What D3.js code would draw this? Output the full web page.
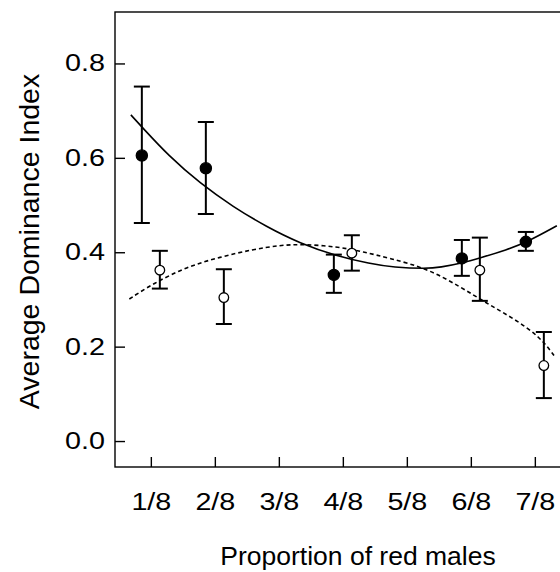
<!DOCTYPE html>
<html>
<head>
<meta charset="utf-8">
<script src="https://cdn.jsdelivr.net/npm/d3@7"></script>
<style>
  body { margin: 0; background: #fff; }
  svg { display: block; font-family: "Liberation Sans", Arial, sans-serif; }
</style>
</head>
<body>
<svg id="grafico" width="560" height="572"></svg>
<script>
// proportions of red males (x categories)
const props      = [1/8, 2/8, 4/8, 6/8, 7/8];
const tickVals   = [1/8, 2/8, 3/8, 4/8, 5/8, 6/8, 7/8];
const tickLabels = ["1/8", "2/8", "3/8", "4/8", "5/8", "6/8", "7/8"];
const yTicks     = [0, 0.2, 0.4, 0.6, 0.8];

// filled circles
const cheiaMedia = [0.605, 0.578, 0.352, 0.387, 0.422];
const cheiaSup   = [0.751, 0.676, 0.395, 0.426, 0.443];
const cheiaInf   = [0.462, 0.481, 0.314, 0.350, 0.403];

// open circles
const vaziaMedia = [0.362, 0.304, 0.398, 0.362, 0.160];
const vaziaSup   = [0.403, 0.364, 0.436, 0.431, 0.231];
const vaziaInf   = [0.323, 0.248, 0.361, 0.297, 0.091];

// fitted curves
const curvaCheiaX = [0.086, 0.107, 0.160, 0.221, 0.286, 0.351, 0.416, 0.488, 0.553, 0.599, 0.664, 0.690, 0.732, 0.768, 0.820, 0.859, 0.918];
const curvaCheiaY = [0.691, 0.666, 0.604, 0.546, 0.496, 0.454, 0.419, 0.392, 0.376, 0.368, 0.365, 0.368, 0.377, 0.388, 0.405, 0.421, 0.456];
const curvaVaziaX = [0.083, 0.130, 0.195, 0.260, 0.325, 0.377, 0.423, 0.488, 0.540, 0.592, 0.664, 0.729, 0.781, 0.833, 0.885, 0.914];
const curvaVaziaY = [0.301, 0.334, 0.369, 0.390, 0.406, 0.415, 0.417, 0.412, 0.401, 0.387, 0.366, 0.327, 0.292, 0.260, 0.221, 0.179];

const LEFT = 115, RIGHT = 563, TOP = 12, BOTTOM = 467;
const DODGE = 9, CAP = 8;

const x = d3.scaleLinear().domain([0.055, 0.93]).range([LEFT, RIGHT]);
const y = d3.scaleLinear().domain([-0.055, 0.909]).range([BOTTOM, TOP]);

const $svg = d3.select("#grafico");

// frame
$svg.append("rect")
    .attr("x", LEFT).attr("y", TOP)
    .attr("width", RIGHT - LEFT).attr("height", BOTTOM - TOP)
    .attr("fill", "none").attr("stroke", "#000").attr("stroke-width", 1.4);

// axes
const eixoY = $svg.append("g")
    .attr("transform", `translate(${LEFT},0)`)
    .call(d3.axisLeft(y).tickValues(yTicks).tickFormat(d3.format(".1f"))
        .tickSize(-10).tickSizeOuter(0).tickPadding(10));

const eixoX = $svg.append("g")
    .attr("transform", `translate(0,${BOTTOM})`)
    .call(d3.axisBottom(x).tickValues(tickVals).tickFormat((d, i) => tickLabels[i])
        .tickSize(-10).tickSizeOuter(0).tickPadding(27));

[eixoY, eixoX].forEach(g => {
    g.select(".domain").remove();
    g.selectAll(".tick line").attr("stroke", "#000").attr("stroke-width", 1.4);
    g.selectAll(".tick text").attr("fill", "#000").attr("font-size", 23)
        .attr("font-family", "Liberation Sans, Arial, sans-serif");
});
eixoY.selectAll(".tick text").attr("x", -10 / 1.25).attr("transform", "scale(1.25,1)");
eixoX.selectAll(".tick text").attr("transform", "scale(1.25,1)");

// curves
const linha = d3.line().x(d => x(d[0])).y(d => y(d[1])).curve(d3.curveBasis);

$svg.append("path")
    .datum(curvaCheiaX.map((v, i) => [v, curvaCheiaY[i]]))
    .attr("d", linha)
    .attr("fill", "none").attr("stroke", "#000").attr("stroke-width", 1.6);

$svg.append("path")
    .datum(curvaVaziaX.map((v, i) => [v, curvaVaziaY[i]]))
    .attr("d", linha)
    .attr("fill", "none").attr("stroke", "#000").attr("stroke-width", 1.6)
    .attr("stroke-dasharray", "4,3");

// error bars + points
const series = [
    { media: cheiaMedia, sup: cheiaSup, inf: cheiaInf, dx: -DODGE, fill: "#000", r: 5.6 },
    { media: vaziaMedia, sup: vaziaSup, inf: vaziaInf, dx: DODGE, fill: "#fff", r: 4.8 }
];

series.forEach(s => {
    const dados = props.map((p, i) => ({ p: p, m: s.media[i], hi: s.sup[i], lo: s.inf[i] }));
    const g = $svg.append("g");
    const bar = g.selectAll("g.bar").data(dados).enter().append("g")
        .attr("class", "bar")
        .attr("stroke", "#000").attr("stroke-width", 2);
    bar.append("line")
        .attr("x1", d => x(d.p) + s.dx).attr("x2", d => x(d.p) + s.dx)
        .attr("y1", d => y(d.hi)).attr("y2", d => y(d.lo));
    bar.append("line")
        .attr("x1", d => x(d.p) + s.dx - CAP).attr("x2", d => x(d.p) + s.dx + CAP)
        .attr("y1", d => y(d.hi)).attr("y2", d => y(d.hi));
    bar.append("line")
        .attr("x1", d => x(d.p) + s.dx - CAP).attr("x2", d => x(d.p) + s.dx + CAP)
        .attr("y1", d => y(d.lo)).attr("y2", d => y(d.lo));
    g.selectAll("circle").data(dados).enter().append("circle")
        .attr("cx", d => x(d.p) + s.dx)
        .attr("cy", d => y(d.m))
        .attr("r", s.r)
        .attr("fill", s.fill)
        .attr("stroke", "#000").attr("stroke-width", 1.3);
});

// titles
$svg.append("text")
    .attr("transform", "translate(38.5,241.5) rotate(-90)")
    .attr("text-anchor", "middle")
    .attr("font-size", 28.5)
    .text("Average Dominance Index");

$svg.append("text")
    .attr("x", 358).attr("y", 565)
    .attr("text-anchor", "middle")
    .attr("font-size", 26.5)
    .text("Proportion of red males");
</script>
</body>
</html>
